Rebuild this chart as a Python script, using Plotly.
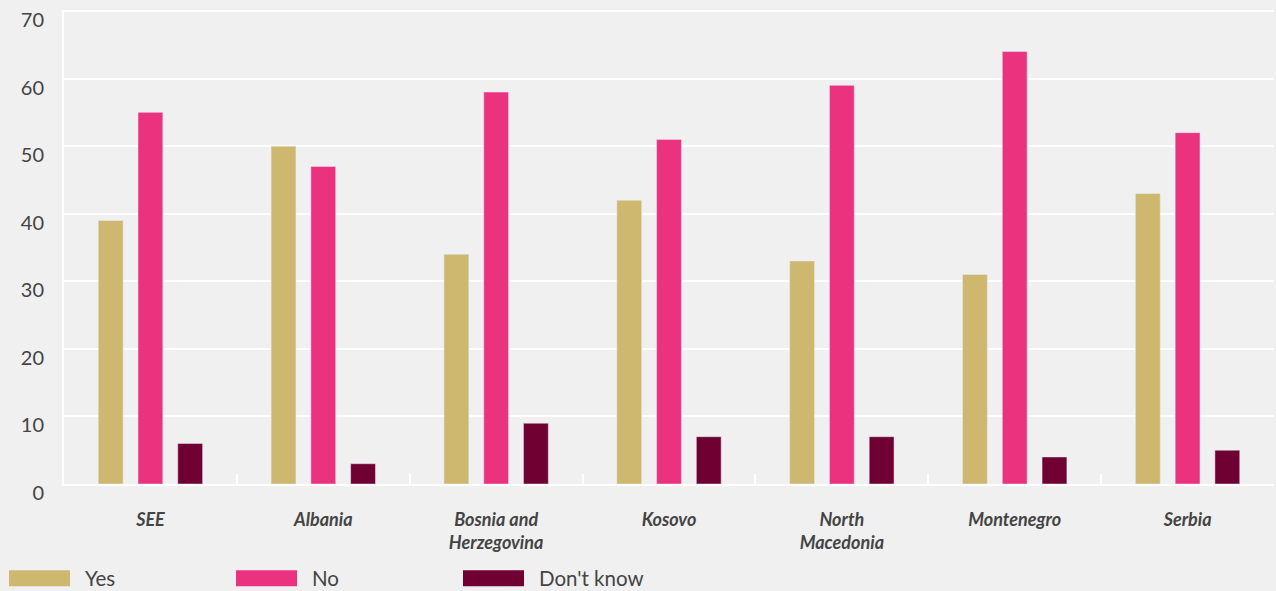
import plotly.graph_objects as go

categories = ["SEE", "Albania", "Bosnia and<br>Herzegovina", "Kosovo",
              "North<br>Macedonia", "Montenegro", "Serbia"]
yes_values = [39, 50, 34, 42, 33, 31, 43]
no_values = [55, 47, 58, 51, 59, 64, 52]
dont_know_values = [6, 3, 9, 7, 7, 4, 5]
y_ticks = [0, 10, 20, 30, 40, 50, 60, 70]

series = [
    ("Yes", yes_values, "#CEB76F"),
    ("No", no_values, "#EB327E"),
    ("Don't know", dont_know_values, "#700032"),
]

fig = go.Figure()

for name, values, color in series:
    fig.add_trace(go.Bar(
        x=categories,
        y=values,
        name=name,
        marker_color=color,
        showlegend=False,
    ))

# Custom legend with wide swatches along the bottom
legend_x = [9, 236, 463]
for (name, values, color), x0 in zip(series, legend_x):
    fig.add_shape(
        type="rect", xref="paper", yref="paper",
        x0=(x0 - 64) / 1210, x1=(x0 + 61 - 64) / 1210,
        y0=-(570 - 484) / 473, y1=-(586 - 484) / 473,
        fillcolor=color, line_width=0, layer="above",
    )
    fig.add_annotation(
        text=name, xref="paper", yref="paper",
        x=(x0 + 74 - 64) / 1210, y=-(578 - 484) / 473,
        xanchor="left", yanchor="middle", showarrow=False,
        font=dict(family="Lato", size=20.5, color="#444444"),
    )

fig.update_layout(
    width=1276,
    height=591,
    margin=dict(l=64, r=2, t=10, b=107),
    paper_bgcolor="#F0F0F0",
    plot_bgcolor="#F0F0F0",
    barmode="group",
    bargap=0.31,
    bargroupgap=0.375,
    font=dict(family="Lato", color="#444444"),
)

fig.update_xaxes(
    showline=True, linecolor="white", linewidth=2,
    ticks="inside", tickson="boundaries", tickcolor="white",
    ticklen=10, tickwidth=2,
    tickfont=dict(family="Lato", size=18, color="#444444",
                  weight="bold", style="italic"),
    ticklabelstandoff=18,
    showgrid=False,
)

fig.update_yaxes(
    range=[0, 70.15],
    tickvals=y_ticks,
    showline=True, linecolor="white", linewidth=2,
    gridcolor="white", gridwidth=1.5,
    zeroline=False,
    tickfont=dict(family="Lato", size=20, color="#444444"),
    ticklabelstandoff=14,
    ticklabelshift=9,
)

# remove the default page margin so the figure sits flush in the window
fig.write_html("out.html", config={"displayModeBar": False},
               post_script="document.body.style.margin='0';")
